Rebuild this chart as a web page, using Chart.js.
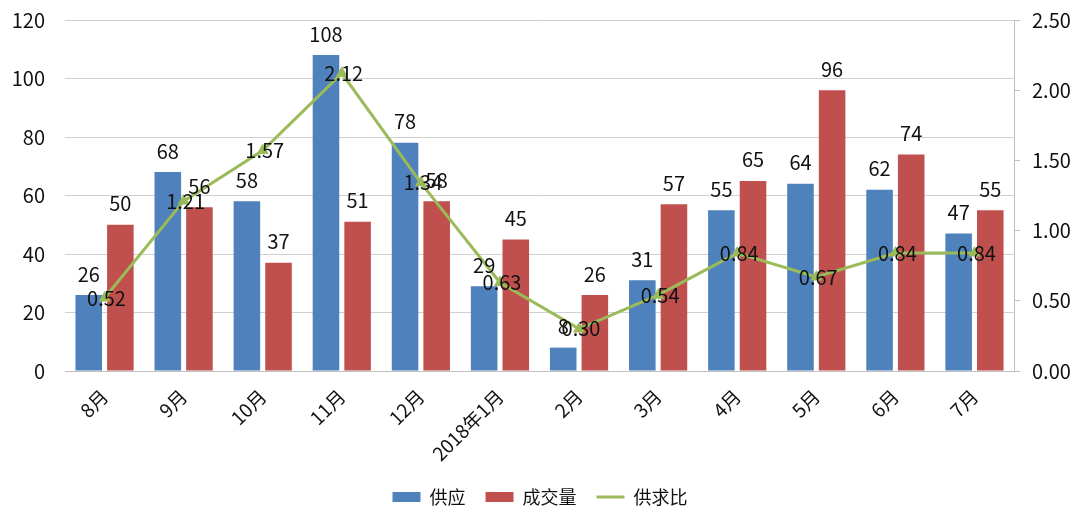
<!DOCTYPE html>
<html>
<head>
<meta charset="utf-8">
<script src="https://cdn.jsdelivr.net/npm/chart.js@4/dist/chart.umd.min.js"></script>
<style>
  html, body { margin: 0; padding: 0; background: #fff; }
  #wrap { width: 1080px; height: 525px; }
</style>
</head>
<body>
<div id="wrap"><canvas id="chart" width="1080" height="525"></canvas></div>
<script>
// chart data
const months = ['8月', '9月', '10月', '11月', '12月', '2018年1月', '2月', '3月', '4月', '5月', '6月', '7月'];
const supply = [26, 68, 58, 108, 78, 29, 8, 31, 55, 64, 62, 47];
const deals = [50, 56, 37, 51, 58, 45, 26, 57, 65, 96, 74, 55];
const ratio = [0.52, 1.21, 1.57, 2.12, 1.34, 0.63, 0.30, 0.54, 0.84, 0.67, 0.84, 0.84];

const FONT = '"Noto Sans CJK SC", "Noto Sans", sans-serif';

// draws value labels above bars and centred on line points
const valueLabels = {
    id: 'valueLabels',
    afterDatasetsDraw(chart) {
        const ctx = chart.ctx;
        ctx.save();
        ctx.font = '20px ' + FONT;
        ctx.fillStyle = '#111';
        ctx.textAlign = 'center';
        chart.data.datasets.forEach((ds, i) => {
            const meta = chart.getDatasetMeta(i);
            if (meta.type !== 'bar') return;
            meta.data.forEach((el, j) => {
                ctx.textBaseline = 'bottom';
                ctx.fillText(String(ds.data[j]), el.x, el.y - 11);
            });
        });
        chart.data.datasets.forEach((ds, i) => {
            const meta = chart.getDatasetMeta(i);
            if (meta.type !== 'line') return;
            meta.data.forEach((el, j) => {
                ctx.textBaseline = 'middle';
                ctx.fillText(ds.data[j].toFixed(2), el.x + 2, el.y);
            });
        });
        ctx.restore();
    }
};

// fixed axis sizes so the plot area lines up with the reference
function fixY(width) {
    return s => { s.width = width; s.paddingTop = 0; s.paddingBottom = 0; };
}

new Chart(document.getElementById('chart'), {
    data: {
        labels: months,
        datasets: [{
            type: 'bar',
            label: '供应',
            data: supply,
            backgroundColor: '#4F81BD',
            yAxisID: 'y',
            order: 1,
            barPercentage: 0.84,
            categoryPercentage: 0.8
        }, {
            type: 'bar',
            label: '成交量',
            data: deals,
            backgroundColor: '#C0504D',
            yAxisID: 'y',
            order: 1,
            barPercentage: 0.84,
            categoryPercentage: 0.8
        }, {
            type: 'line',
            label: '供求比',
            data: ratio,
            borderColor: '#9BBB59',
            backgroundColor: '#9BBB59',
            borderWidth: 3,
            pointStyle: 'triangle',
            pointRadius: 4,
            yAxisID: 'y1',
            order: 0,
            tension: 0
        }]
    },
    options: {
        responsive: false,
        animation: false,
        layout: { padding: { top: 20, left: 0, right: 0, bottom: 9 } },
        scales: {
            x: {
                grid: { display: false },
                border: { color: '#bfbfbf' },
                afterFit: s => { s.height = 97; },
                ticks: {
                    color: '#111',
                    font: { family: FONT, size: 19 },
                    maxRotation: 45,
                    minRotation: 45,
                    padding: 6
                }
            },
            y: {
                position: 'left',
                min: 0,
                max: 120,
                border: { display: false },
                grid: { color: '#d0d0d0', drawTicks: false },
                afterFit: fixY(65),
                ticks: {
                    stepSize: 20,
                    color: '#111',
                    font: { family: FONT, size: 20 },
                    padding: 20
                }
            },
            y1: {
                position: 'right',
                min: 0,
                max: 2.5,
                border: { color: '#bfbfbf' },
                grid: { drawOnChartArea: false, color: '#bfbfbf', tickLength: 6 },
                afterFit: fixY(66),
                ticks: {
                    stepSize: 0.5,
                    color: '#111',
                    font: { family: FONT, size: 20 },
                    padding: 12,
                    callback: v => v.toFixed(2)
                }
            }
        },
        plugins: {
            tooltip: { enabled: false },
            legend: {
                position: 'bottom',
                labels: {
                    color: '#111',
                    font: { family: FONT, size: 18 },
                    boxHeight: 10,
                    usePointStyle: true,
                    pointStyleWidth: 28,
                    padding: 20,
                    generateLabels: chart => Chart.defaults.plugins.legend.labels.generateLabels(chart)
                        .map(l => Object.assign(l, { pointStyle: l.datasetIndex === 2 ? 'line' : 'rect' })),
                    sort: (a, b) => a.datasetIndex - b.datasetIndex
                }
            }
        }
    },
    plugins: [valueLabels]
});
</script>
</body>
</html>
